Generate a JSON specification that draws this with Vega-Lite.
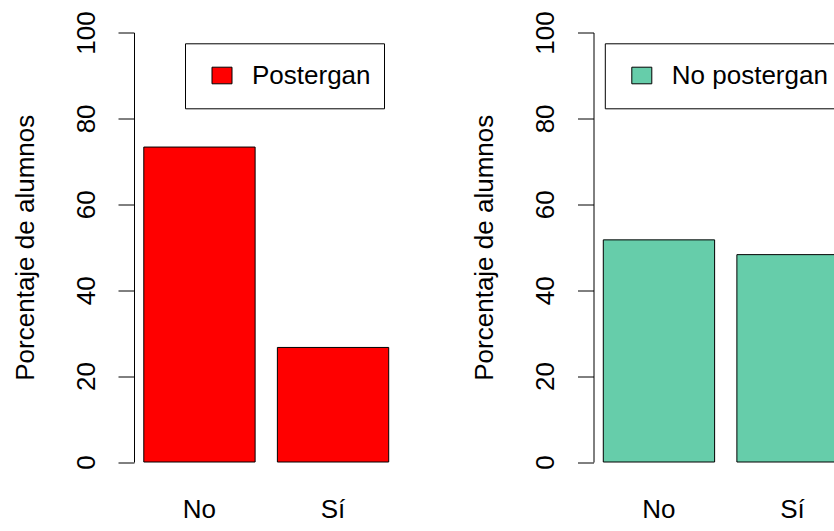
{
  "$schema": "https://vega.github.io/schema/vega-lite/v6.json",
  "padding": {"left": 12, "top": 10.5, "right": 0, "bottom": 0},
  "background": "white",
  "data": {"values": [
    {"grupo": "Postergan", "respuesta": "No", "porcentaje": 73.33},
    {"grupo": "Postergan", "respuesta": "Sí", "porcentaje": 26.67},
    {"grupo": "No postergan", "respuesta": "No", "porcentaje": 51.72},
    {"grupo": "No postergan", "respuesta": "Sí", "porcentaje": 48.28}
  ]},
  "config": {
    "view": {"stroke": null},
    "font": "Liberation Sans",
    "concat": {"spacing": 72.5},
    "axis": {
      "labelFont": "Liberation Sans", "titleFont": "Liberation Sans",
      "labelFontSize": 26, "titleFontSize": 26, "labelColor": "black", "titleColor": "black",
      "titleFontWeight": "normal", "grid": false
    },
    "legend": {
      "labelFont": "Liberation Sans", "labelFontSize": 26, "labelColor": "black"
    }
  },
  "hconcat": [
    {
      "width": 264.5, "height": 429.5,
      "transform": [{"filter": "datum.grupo === 'Postergan'"}],
      "mark": {"type": "bar", "stroke": "black", "strokeWidth": 1},
      "encoding": {
        "x": {"field": "respuesta", "type": "nominal", "sort": ["No", "Sí"],
          "scale": {"paddingInner": 0.1667, "paddingOuter": 0.0733},
          "axis": {"title": null, "domain": false, "ticks": false, "tickSize": 0, "labelAngle": 0, "labelBaseline": "alphabetic", "labelPadding": 55}},
        "y": {"field": "porcentaje", "type": "quantitative",
          "scale": {"domain": [0, 100], "nice": false, "zero": true},
          "axis": {"title": "Porcentaje de alumnos", "values": [0, 20, 40, 60, 80, 100],
            "domainColor": "black", "tickColor": "black", "tickSize": 16, "domainWidth": 1, "tickWidth": 1,
            "labelAngle": 270, "labelAlign": "center", "labelBaseline": "alphabetic", "labelPadding": 24,
            "titleAngle": 270, "titleAlign": "center", "titleBaseline": "alphabetic", "titleX": -101}},
        "color": {"field": "grupo", "type": "nominal",
          "scale": {"domain": ["Postergan"], "range": ["#FF0000"]},
          "legend": {"title": null, "orient": "none", "legendX": 51, "legendY": 10.8,
            "strokeColor": "black", "padding": 13, "symbolOffset": 11,
            "symbolType": "M-1,-0.83H1V0.83H-1Z", "symbolSize": 400, "symbolStrokeColor": "black", "symbolStrokeWidth": 1,
            "symbolOpacity": 1, "labelOffset": 17, "clipHeight": 38.4}}
      }
    },
    {
      "width": 264.5, "height": 429.5,
      "transform": [{"filter": "datum.grupo === 'No postergan'"}],
      "mark": {"type": "bar", "stroke": "black", "strokeWidth": 1},
      "encoding": {
        "x": {"field": "respuesta", "type": "nominal", "sort": ["No", "Sí"],
          "scale": {"paddingInner": 0.1667, "paddingOuter": 0.0733},
          "axis": {"title": null, "domain": false, "ticks": false, "tickSize": 0, "labelAngle": 0, "labelBaseline": "alphabetic", "labelPadding": 55}},
        "y": {"field": "porcentaje", "type": "quantitative",
          "scale": {"domain": [0, 100], "nice": false, "zero": true},
          "axis": {"title": "Porcentaje de alumnos", "values": [0, 20, 40, 60, 80, 100],
            "domainColor": "black", "tickColor": "black", "tickSize": 16, "domainWidth": 1, "tickWidth": 1,
            "labelAngle": 270, "labelAlign": "center", "labelBaseline": "alphabetic", "labelPadding": 24,
            "titleAngle": 270, "titleAlign": "center", "titleBaseline": "alphabetic", "titleX": -101}},
        "color": {"field": "grupo", "type": "nominal",
          "scale": {"domain": ["No postergan"], "range": ["#66CDAA"]},
          "legend": {"title": null, "orient": "none", "legendX": 11.3, "legendY": 10.8,
            "strokeColor": "black", "padding": 13, "symbolOffset": 11,
            "symbolType": "M-1,-0.83H1V0.83H-1Z", "symbolSize": 400, "symbolStrokeColor": "black", "symbolStrokeWidth": 1,
            "symbolOpacity": 1, "labelOffset": 17, "clipHeight": 38.4}}
      }
    }
  ],
  "resolve": {"scale": {"color": "independent", "y": "independent", "x": "independent"}, "legend": {"color": "independent"}}
}
